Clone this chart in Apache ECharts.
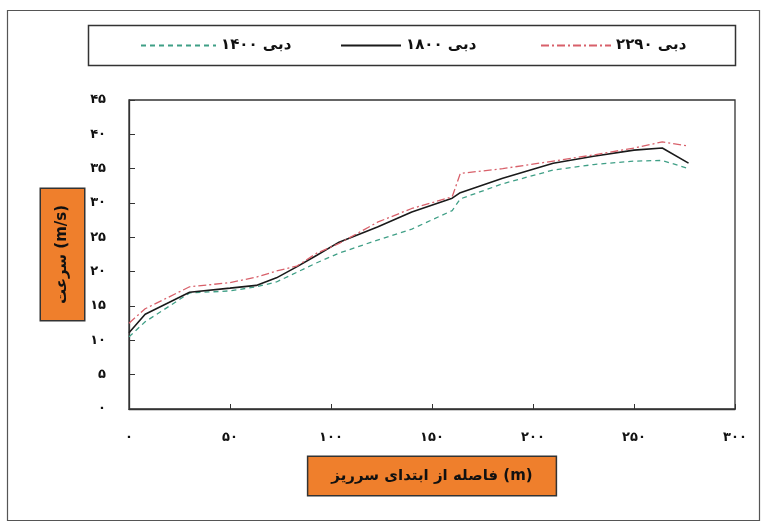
<!DOCTYPE html>
<html>
<head>
<meta charset="utf-8">
<script src="https://cdn.jsdelivr.net/npm/echarts@6/dist/echarts.min.js"></script>
<style>
  html, body { margin: 0; padding: 0; background: #fff; }
  #chart { width: 767px; height: 529px; }
</style>
</head>
<body>
<div id="chart"></div>
<script>
// Distance from the start of the spillway (m)
const distance = [0, 8, 30, 50, 63, 73, 83, 93, 104, 123, 140, 160, 164, 185, 210, 230, 250, 264, 277];

// Flow velocity (m/s) for each discharge
const q1400 = [10.5, 12.7, 16.9, 17.2, 17.8, 18.5, 19.9, 21.3, 22.7, 24.6, 26.2, 28.9, 30.6, 32.8, 34.8, 35.6, 36.1, 36.2, 35.0];
const q1800 = [11.1, 13.8, 17.0, 17.6, 18.0, 19.1, 20.7, 22.4, 24.3, 26.5, 28.7, 30.7, 31.5, 33.6, 35.8, 36.8, 37.7, 38.0, 35.8];
const q2290 = [12.5, 14.6, 17.8, 18.4, 19.2, 20.1, 20.8, 22.7, 24.1, 27.2, 29.2, 30.9, 34.3, 35.0, 36.1, 37.0, 38.0, 38.9, 38.3];

const seriesNames = ['دبی ۱۴۰۰', 'دبی ۱۸۰۰', 'دبی ۲۲۹۰'];

// Axis ticks
const xTicks = { min: 0, max: 300, step: 50 };
const yTicks = { min: 0, max: 45, step: 5 };

const xTitle = 'فاصله از ابتدای سرریز (m)';
const yTitle = 'سرعت (m/s)';

const persianDigits = ['۰', '۱', '۲', '۳', '۴', '۵', '۶', '۷', '۸', '۹'];
const toPersian = v => String(v).replace(/\d/g, d => persianDigits[+d]);

const pairs = ys => distance.map((x, i) => [x, ys[i]]);

const FONT = 'DejaVu Sans';

const titleBox = {
  color: '#111',
  fontFamily: FONT,
  fontWeight: 'bold',
  fontSize: 15,
  backgroundColor: '#ef7f2c',
  borderColor: '#333',
  borderWidth: 1.5
};

const legendBase = {
  top: 38,
  padding: 0,
  itemHeight: 14,
  itemStyle: { color: 'transparent', borderColor: 'transparent', borderWidth: 0 },
  textStyle: { fontFamily: FONT, fontWeight: 'bold', fontSize: 15, color: '#111' }
};

const chart = echarts.init(document.getElementById('chart'), null, { renderer: 'canvas' });

chart.setOption({
  backgroundColor: '#fff',
  animation: false,
  graphic: [
    {
      type: 'rect',
      shape: { x: 7.5, y: 10.5, width: 752, height: 510 },
      style: { fill: 'none', stroke: '#555', lineWidth: 1.2 },
      silent: true
    },
    {
      type: 'rect',
      shape: { x: 88.5, y: 25.5, width: 647, height: 40 },
      style: { fill: 'none', stroke: '#333', lineWidth: 1.5 },
      silent: true
    }
  ],
  legend: [
    Object.assign({}, legendBase, { left: 140, itemWidth: 75, data: [seriesNames[0]] }),
    Object.assign({}, legendBase, { left: 340, itemWidth: 60, data: [seriesNames[1]] }),
    Object.assign({}, legendBase, { left: 540, itemWidth: 70, data: [seriesNames[2]] })
  ],
  grid: {
    left: 129, right: 32, top: 100, bottom: 120,
    show: true, borderColor: '#333', borderWidth: 1.3, backgroundColor: '#fff'
  },
  xAxis: {
    type: 'value',
    min: xTicks.min, max: xTicks.max, interval: xTicks.step,
    axisLine: { lineStyle: { color: '#333', width: 1.3 } },
    axisTick: { inside: true, length: 5, lineStyle: { color: '#333' } },
    splitLine: { show: false },
    axisLabel: {
      margin: 22, color: '#111', fontFamily: FONT, fontWeight: 'bold', fontSize: 13,
      formatter: toPersian
    },
    name: xTitle,
    nameLocation: 'middle',
    nameGap: 48,
    nameMoveOverlap: false,
    nameTextStyle: Object.assign({}, titleBox, { padding: [12, 23, 11, 23] })
  },
  yAxis: {
    type: 'value',
    min: yTicks.min, max: yTicks.max, interval: yTicks.step,
    axisLine: { show: true, lineStyle: { color: '#333', width: 1.3 } },
    axisTick: { show: true, inside: true, length: 6, lineStyle: { color: '#333' } },
    splitLine: { show: false },
    axisLabel: {
      margin: 23, color: '#111', fontFamily: FONT, fontWeight: 'bold', fontSize: 13,
      formatter: toPersian
    },
    name: yTitle,
    nameLocation: 'middle',
    nameRotate: 90,
    nameGap: 45,
    nameMoveOverlap: false,
    nameTextStyle: Object.assign({}, titleBox, { padding: [14, 16, 14, 16] })
  },
  series: [
    {
      name: seriesNames[0], type: 'line', data: pairs(q1400),
      symbol: 'none', showSymbol: false,
      color: '#3f9f86',
      lineStyle: { color: '#3f9f86', width: 1.3, type: [5, 4] }
    },
    {
      name: seriesNames[1], type: 'line', data: pairs(q1800),
      symbol: 'none', showSymbol: false,
      color: '#1a1a1a',
      lineStyle: { color: '#1a1a1a', width: 1.6, type: 'solid' }
    },
    {
      name: seriesNames[2], type: 'line', data: pairs(q2290),
      symbol: 'none', showSymbol: false,
      color: '#d8606a',
      lineStyle: { color: '#d8606a', width: 1.3, type: [8, 3, 2, 3] }
    }
  ]
});
</script>
</body>
</html>
